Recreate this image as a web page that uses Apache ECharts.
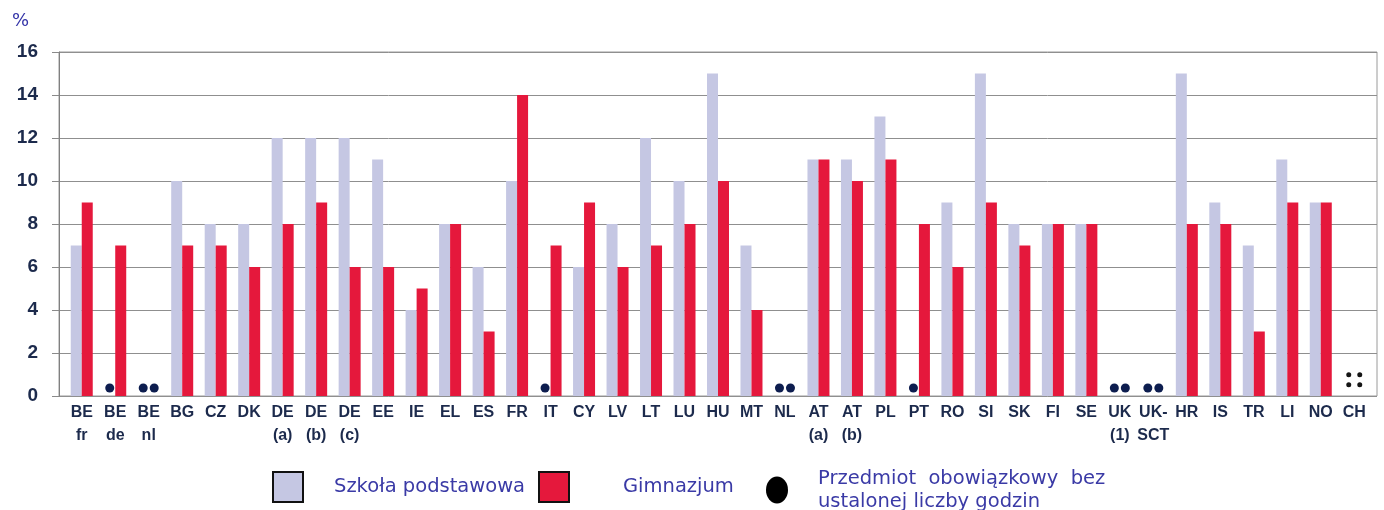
<!DOCTYPE html>
<html>
<head>
<meta charset="utf-8">
<script src="https://cdn.jsdelivr.net/npm/echarts@6/dist/echarts.min.js"></script>
<style>
  html, body { margin: 0; padding: 0; background: #ffffff; }
  #chart { width: 1384px; height: 510px; }
</style>
</head>
<body>
<div id="chart"></div>
<script>
// ---- data ----
const categories = ['BE\nfr','BE\nde','BE\nnl','BG','CZ','DK','DE\n(a)','DE\n(b)','DE\n(c)','EE','IE','EL','ES','FR','IT','CY','LV','LT','LU','HU','MT','NL','AT\n(a)','AT\n(b)','PL','PT','RO','SI','SK','FI','SE','UK\n(1)','UK-\nSCT','HR','IS','TR','LI','NO','CH'];
const primaryHours = [7,null,null,10,8,8,12,12,12,11,4,8,6,10,null,6,8,12,10,15,7,null,11,11,13,null,9,15,8,8,8,null,null,15,9,7,11,9,null];
const lowerSecondaryHours = [9,7,null,7,7,6,8,9,6,6,5,8,3,14,7,9,6,7,8,10,4,null,11,10,11,8,6,9,7,8,8,null,null,8,8,3,9,9,null];
// compulsory subject without a fixed number of hours
const noFixedPrimary = ['BE\nde','BE\nnl','IT','NL','PT','UK\n(1)','UK-\nSCT'];
const noFixedLowerSecondary = ['BE\nnl','NL','UK\n(1)','UK-\nSCT'];
// data not available
const notAvailable = ['CH'];
const yTicks = [0,2,4,6,8,10,12,14,16];

const seriesNames = ['Szkoła podstawowa', 'Gimnazjum', 'Przedmiot  obowiązkowy  bez\nustalonej liczby godzin'];

// ---- styles ----
const lightColor = '#c5c7e3';
const redColor = '#e5183c';
const dotColor = '#0d1d4f';
const labelColor = '#1c2a4c';
const legendTextColor = '#3a3aa6';
const dotLevel = 0.58;
const colonLevel = 1.1;
const colonPath = 'path://M2.5,0A2.5,2.5 0 1,1 2.499,0ZM2.5,10A2.5,2.5 0 1,1 2.499,10Z';

function markers(noFixed) {
  return categories.map(function (c) {
    if (noFixed.indexOf(c) >= 0) {
      return { value: dotLevel, symbol: 'circle', symbolSize: [9, 9], itemStyle: { color: dotColor } };
    }
    if (notAvailable.indexOf(c) >= 0) {
      return { value: colonLevel, symbol: colonPath, symbolSize: [5, 15], itemStyle: { color: '#151515' } };
    }
    return '-';
  });
}
function bars(arr) { return arr.map(function (v) { return v === null ? '-' : v; }); }

const chart = echarts.init(document.getElementById('chart'), null, { renderer: 'canvas' });
const option = {
  animation: false,
  backgroundColor: '#ffffff',
  title: {
    text: '%', left: 12, top: 12, padding: 0,
    textStyle: { color: '#3434a8', fontSize: 18, fontWeight: 'normal', fontFamily: 'DejaVu Sans' }
  },
  grid: [
    { left: 65, right: 13, top: 52, bottom: 114 },
    { left: 59, right: 7, top: 52, bottom: 114, show: true, borderColor: '#9a9a9a', borderWidth: 1, backgroundColor: 'transparent' }
  ],
  xAxis: [
    {
      type: 'category', gridIndex: 0, data: categories,
      axisLine: { show: false }, axisTick: { show: false },
      axisLabel: {
        interval: 0, margin: 5, color: labelColor, fontSize: 16, fontWeight: 'bold',
        fontFamily: 'Liberation Sans, Arial, sans-serif', lineHeight: 23
      }
    },
    { type: 'value', gridIndex: 1, min: 0, max: 1, show: false }
  ],
  yAxis: [
    { type: 'value', gridIndex: 0, min: 0, max: 16, interval: 2, show: false },
    {
      type: 'value', gridIndex: 1, min: yTicks[0], max: yTicks[yTicks.length - 1], interval: 2,
      axisLine: { show: true, lineStyle: { color: '#808080', width: 1 } },
      axisTick: { show: true, length: 7, lineStyle: { color: '#8a8a8a' } },
      splitLine: { show: true, lineStyle: { color: '#8f8f8f', width: 1 } },
      axisLabel: {
        margin: 21, color: labelColor, fontSize: 19, fontWeight: 'bold',
        fontFamily: 'Liberation Sans, Arial, sans-serif'
      }
    }
  ],
  legend: [
    {
      left: 272, top: 471, padding: 0, selectedMode: false,
      itemWidth: 30, itemHeight: 30,
      data: [{ name: seriesNames[0], icon: 'rect' }],
      itemStyle: { borderColor: '#111111', borderWidth: 2 },
      textStyle: { color: legendTextColor, fontSize: 19.5, fontFamily: 'DejaVu Sans', padding: [0, 0, 0, 26] }
    },
    {
      left: 538, top: 471, padding: 0, selectedMode: false,
      itemWidth: 30, itemHeight: 30,
      data: [{ name: seriesNames[1], icon: 'rect' }],
      itemStyle: { borderColor: '#111111', borderWidth: 2 },
      textStyle: { color: legendTextColor, fontSize: 19.5, fontFamily: 'DejaVu Sans', padding: [0, 0, 0, 49] }
    },
    {
      left: 766, top: 467, padding: 0, selectedMode: false,
      itemWidth: 22, itemHeight: 27,
      data: [{ name: seriesNames[2], icon: 'path://M0,14A11.5,14 0 1,1 23,14A11.5,14 0 1,1 0,14Z', itemStyle: { color: '#000000' } }],
      textStyle: { color: legendTextColor, fontSize: 19.5, fontFamily: 'DejaVu Sans', lineHeight: 23, padding: [0, 0, 0, 25] }
    }
  ],
  series: [
    {
      name: seriesNames[0], type: 'bar', xAxisIndex: 0, yAxisIndex: 0,
      data: bars(primaryHours), barWidth: 11, barGap: '0%',
      itemStyle: { color: lightColor }
    },
    {
      name: seriesNames[1], type: 'bar', xAxisIndex: 0, yAxisIndex: 0,
      data: bars(lowerSecondaryHours), barWidth: 11, barGap: '0%',
      itemStyle: { color: redColor }
    },
    {
      name: seriesNames[2], type: 'pictorialBar', xAxisIndex: 0, yAxisIndex: 0,
      data: markers(noFixedPrimary), barWidth: 11, barGap: '0%',
      symbolPosition: 'end', symbol: 'circle', itemStyle: { color: dotColor }, z: 5
    },
    {
      name: seriesNames[2], type: 'pictorialBar', xAxisIndex: 0, yAxisIndex: 0,
      data: markers(noFixedLowerSecondary), barWidth: 11, barGap: '0%',
      symbolPosition: 'end', symbol: 'circle', itemStyle: { color: dotColor }, z: 5
    }
  ]
};
chart.setOption(option);
</script>
</body>
</html>
